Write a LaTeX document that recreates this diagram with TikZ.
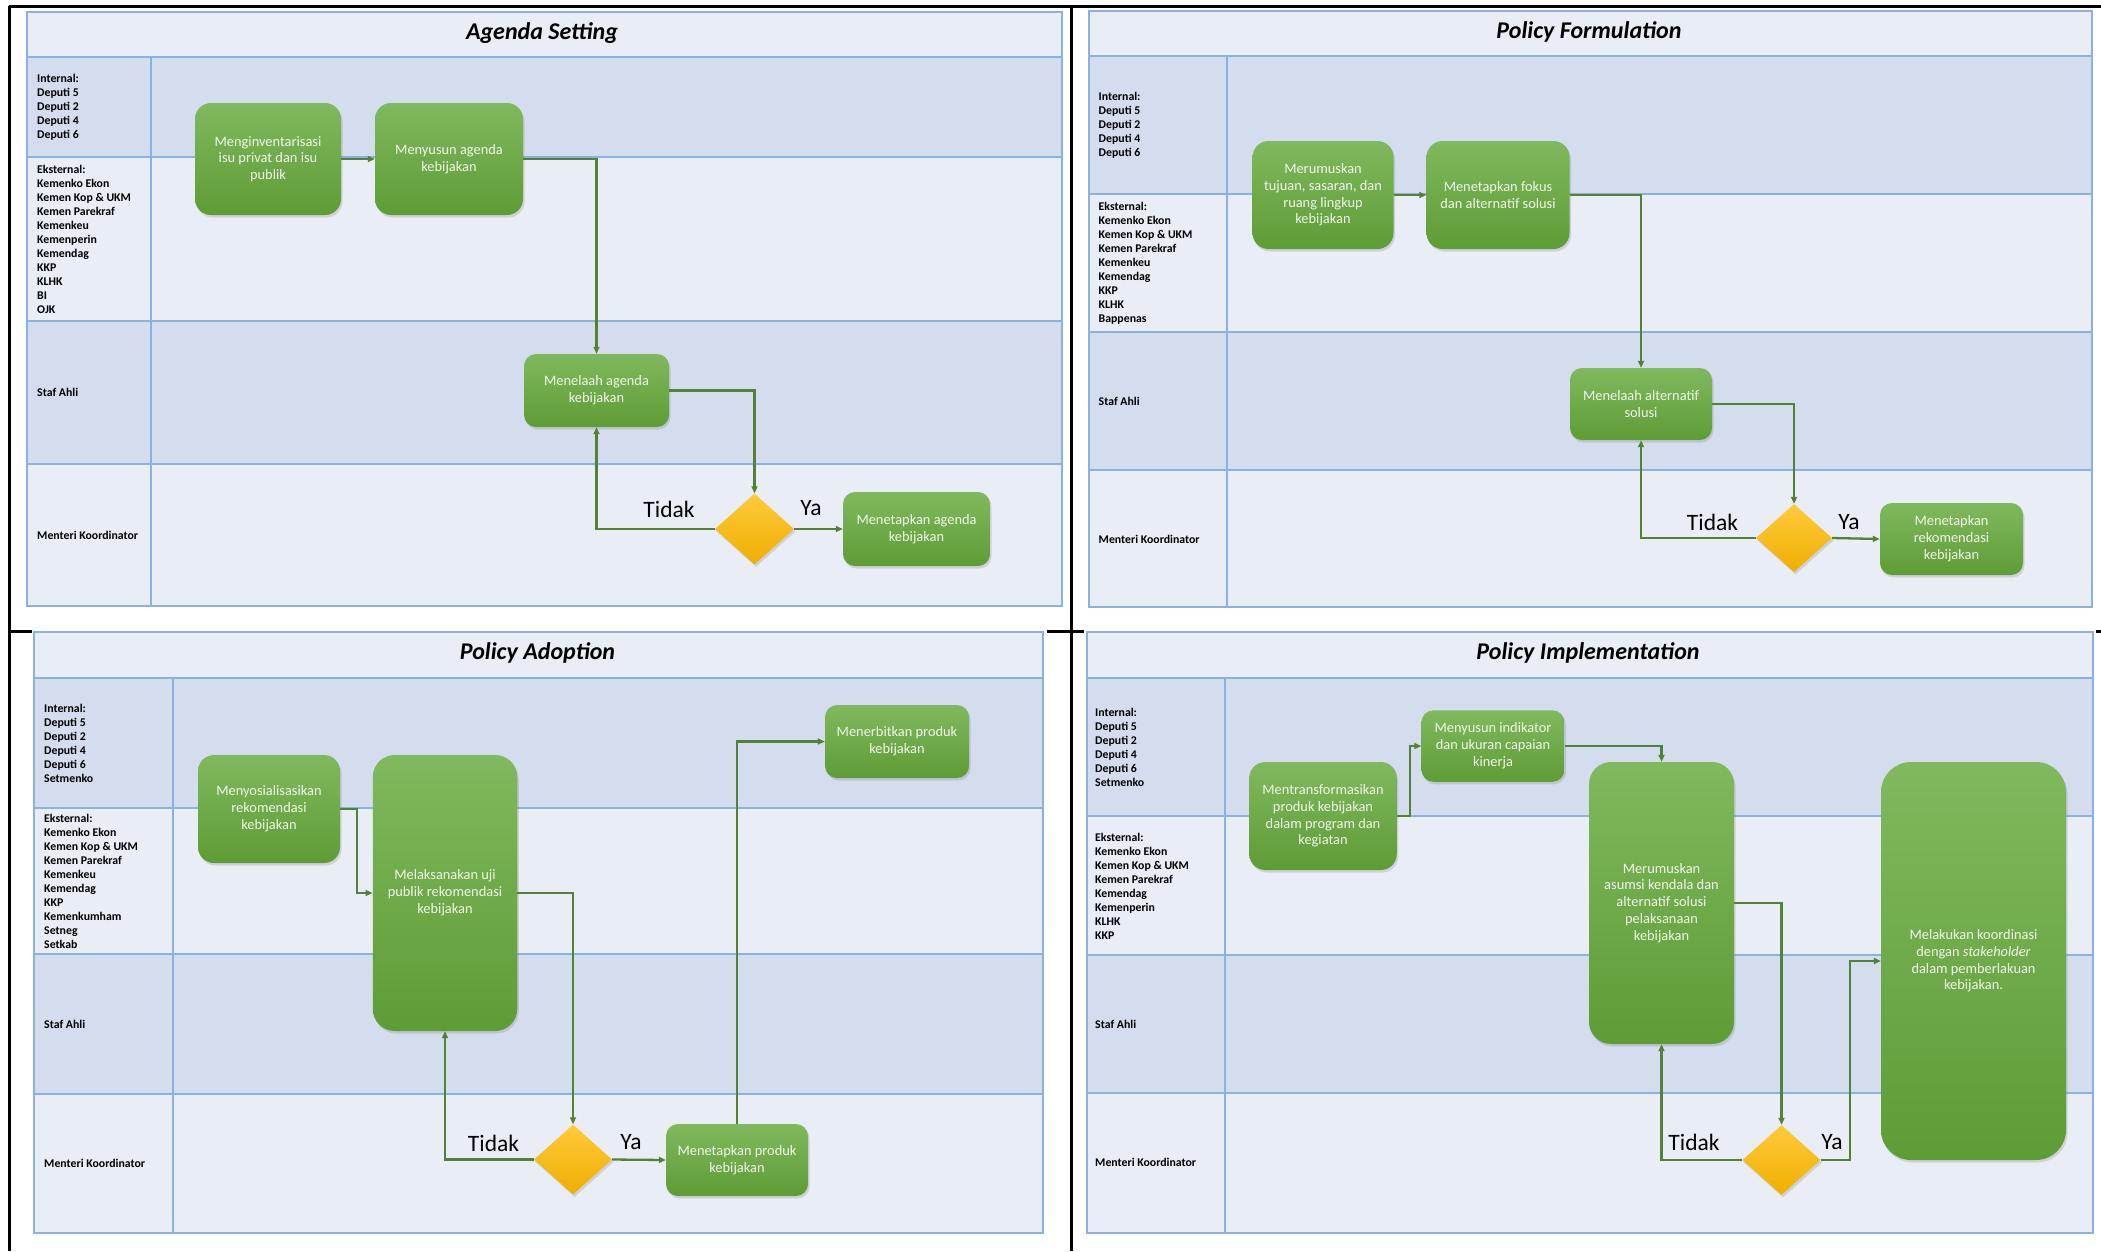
\documentclass[tikz,border=0pt]{standalone}
\usepackage{fontspec}
\setmainfont{Carlito}
\usepackage{tikz}
\usetikzlibrary{shapes.geometric,arrows.meta,shadows}
\definecolor{lanelight}{HTML}{E9EDF6}
\definecolor{lanedark}{HTML}{D3DDEE}
\definecolor{laneblue}{HTML}{8AB2E0}
\definecolor{greentop}{HTML}{80B95E}
\definecolor{greenbot}{HTML}{5E9C35}
\definecolor{goldtop}{HTML}{FFCB3C}
\definecolor{goldbot}{HTML}{EFAE00}
\definecolor{flowgreen}{HTML}{538135}
\definecolor{boxtext}{HTML}{F2F7EE}

\begin{document}
\begin{tikzpicture}[x=1pt, y=-1pt,
  laneline/.style={draw=laneblue, line width=2pt},
  frameline/.style={draw=black, line width=3pt},
  lanelabel/.style={anchor=west, align=left, inner sep=0pt, font=\fontsize{11.8}{14}\selectfont\bfseries},
  paneltitle/.style={inner sep=0pt, font=\fontsize{24}{28}\selectfont\bfseries\itshape},
  greenbox/.style={rectangle, draw=none, top color=greentop, bottom color=greenbot, text=boxtext, align=center, inner sep=0pt, font=\fontsize{14.4}{16.8}\selectfont, drop shadow={shadow xshift=1.5pt, shadow yshift=-2.5pt, opacity=0.25}},
  decision/.style={diamond, draw=none, top color=goldtop, bottom color=goldbot, inner sep=0pt, drop shadow={shadow xshift=1.5pt, shadow yshift=-2.5pt, opacity=0.25}},
  branchlabel/.style={inner sep=0pt, font=\fontsize{23.5}{27}\selectfont},
  flowarrow/.style={draw=flowgreen, line width=2.3pt, -{Triangle[length=7pt, width=6pt]}}]
\useasboundingbox (0,0) rectangle (2101,1251);
\fill[white] (0,0) rectangle (2101,1251);

\fill[lanelight] (27,12) rectangle (1062,606);
\fill[lanedark] (27,57) rectangle (1062,157);
\fill[lanedark] (27,321) rectangle (1062,463.5);
\draw[laneline] (27,12) rectangle (1062,606);
\draw[laneline] (27,57) -- (1062,57);
\draw[laneline] (27,157) -- (1062,157);
\draw[laneline] (27,321) -- (1062,321);
\draw[laneline] (27,463.5) -- (1062,463.5);
\draw[laneline] (151,57) -- (151,606);

\fill[lanelight] (1089,11) rectangle (2092,607);
\fill[lanedark] (1089,56) rectangle (2092,194);
\fill[lanedark] (1089,332) rectangle (2092,469.5);
\draw[laneline] (1089,11) rectangle (2092,607);
\draw[laneline] (1089,56) -- (2092,56);
\draw[laneline] (1089,194) -- (2092,194);
\draw[laneline] (1089,332) -- (2092,332);
\draw[laneline] (1089,469.5) -- (2092,469.5);
\draw[laneline] (1227,56) -- (1227,607);

\fill[lanelight] (34,632) rectangle (1043,1233);
\fill[lanedark] (34,678) rectangle (1043,808);
\fill[lanedark] (34,954) rectangle (1043,1093.5);
\draw[laneline] (34,632) rectangle (1043,1233);
\draw[laneline] (34,678) -- (1043,678);
\draw[laneline] (34,808) -- (1043,808);
\draw[laneline] (34,954) -- (1043,954);
\draw[laneline] (34,1093.5) -- (1043,1093.5);
\draw[laneline] (173,678) -- (173,1233);

\fill[lanelight] (1087,632) rectangle (2093,1232.5);
\fill[lanedark] (1087,678) rectangle (2093,816);
\fill[lanedark] (1087,955) rectangle (2093,1093);
\draw[laneline] (1087,632) rectangle (2093,1232.5);
\draw[laneline] (1087,678) -- (2093,678);
\draw[laneline] (1087,816) -- (2093,816);
\draw[laneline] (1087,955) -- (2093,955);
\draw[laneline] (1087,1093) -- (2093,1093);
\draw[laneline] (1225,678) -- (1225,1232.5);

\draw[frameline] (9,6) -- (2101,6);
\draw[frameline] (9,6) -- (9,1251);
\draw[frameline] (1071,6) -- (1071,1251);
\draw[frameline] (9,631) -- (32,631);
\draw[frameline] (1047,631) -- (1084,631);
\draw[frameline] (2096,631) -- (2101,631);

\node[paneltitle] (t1) at (542,33) {Agenda Setting};
\node[lanelabel] (p1int) at (37,107) {Internal:\\Deputi 5\\Deputi 2\\Deputi 4\\Deputi 6};
\node[lanelabel] (p1ext) at (37,239) {Eksternal:\\Kemenko Ekon\\Kemen Kop \& UKM\\Kemen Parekraf\\Kemenkeu\\Kemenperin\\Kemendag\\KKP\\KLHK\\BI\\OJK};
\node[lanelabel] (p1staf) at (37,392) {Staf Ahli};
\node[lanelabel] (p1men) at (37,535) {Menteri Koordinator};

\node[greenbox, minimum width=146pt, minimum height=112pt, rounded corners=16pt] (a1) at (268,159) {Menginventarisasi\\isu privat dan isu\\publik};
\node[greenbox, minimum width=148pt, minimum height=112pt, rounded corners=16pt] (a2) at (449,159) {Menyusun agenda\\kebijakan};
\node[greenbox, minimum width=145pt, minimum height=73pt, rounded corners=12pt] (a3) at (596.5,390.5) {Menelaah agenda\\kebijakan};
\node[decision, minimum width=79pt, minimum height=71pt] (ad) at (754.5,529) {};
\node[greenbox, minimum width=147pt, minimum height=74pt, rounded corners=12pt] (a4) at (916.5,529) {Menetapkan agenda\\kebijakan};
\node[branchlabel] (a5) at (669,509) {Tidak};
\node[branchlabel] (a6) at (811,508) {Ya};
\draw[flowarrow] (a1.east) -- (a2.west);
\draw[flowarrow] (a2.east) -| (a3.north);
\draw[flowarrow] (a3.east) -| (ad.north);
\draw[flowarrow] (ad.west) -| (a3.south);
\draw[flowarrow] (ad.east) -- (a4.west);

\node[paneltitle] (t2) at (1589,32) {Policy Formulation};
\node[lanelabel] (p2int) at (1098.5,125) {Internal:\\Deputi 5\\Deputi 2\\Deputi 4\\Deputi 6};
\node[lanelabel] (p2ext) at (1098.5,263) {Eksternal:\\Kemenko Ekon\\Kemen Kop \& UKM\\Kemen Parekraf\\Kemenkeu\\Kemendag\\KKP\\KLHK\\Bappenas};
\node[lanelabel] (p2staf) at (1098.5,401) {Staf Ahli};
\node[lanelabel] (p2men) at (1098.5,539.5) {Menteri Koordinator};

\node[greenbox, minimum width=141pt, minimum height=108pt, rounded corners=16pt] (b1) at (1323,195) {Merumuskan\\tujuan, sasaran, dan\\ruang lingkup\\kebijakan};
\node[greenbox, minimum width=143pt, minimum height=108pt, rounded corners=16pt] (b2) at (1498,195) {Menetapkan fokus\\dan alternatif solusi};
\node[greenbox, minimum width=142pt, minimum height=72pt, rounded corners=12pt] (b3) at (1641,404) {Menelaah alternatif\\solusi};
\node[decision, minimum width=76pt, minimum height=68pt] (bd) at (1794,538) {};
\node[greenbox, minimum width=143pt, minimum height=72pt, rounded corners=12pt] (b4) at (1951.5,539) {Menetapkan\\rekomendasi\\kebijakan};
\node[branchlabel] (b5) at (1712.5,522) {Tidak};
\node[branchlabel] (b6) at (1849,522) {Ya};
\draw[flowarrow] (b1.east) -- (b2.west);
\draw[flowarrow] (b2.east) -| (b3.north);
\draw[flowarrow] (b3.east) -| (bd.north);
\draw[flowarrow] (bd.west) -| (b3.south);
\draw[flowarrow] (bd.east) -- (b4.west);

\node[paneltitle] (t3) at (537.5,653) {Policy Adoption};
\node[lanelabel] (p3int) at (44,743) {Internal:\\Deputi 5\\Deputi 2\\Deputi 4\\Deputi 6\\Setmenko};
\node[lanelabel] (p3ext) at (44,881.5) {Eksternal:\\Kemenko Ekon\\Kemen Kop \& UKM\\Kemen Parekraf\\Kemenkeu\\Kemendag\\KKP\\Kemenkumham\\Setneg\\Setkab};
\node[lanelabel] (p3staf) at (44,1024) {Staf Ahli};
\node[lanelabel] (p3men) at (44,1163) {Menteri Koordinator};

\node[greenbox, minimum width=142pt, minimum height=108pt, rounded corners=16pt] (c1) at (269,809) {Menyosialisasikan\\rekomendasi\\kebijakan};
\node[greenbox, minimum width=144.5pt, minimum height=276pt, rounded corners=22pt] (c2) at (445,893) {Melaksanakan uji\\publik rekomendasi\\kebijakan};
\node[decision, minimum width=78pt, minimum height=70pt] (cd) at (573,1159.5) {};
\node[greenbox, minimum width=142pt, minimum height=72pt, rounded corners=12pt] (c3) at (737,1160) {Menetapkan produk\\kebijakan};
\node[greenbox, minimum width=144pt, minimum height=73pt, rounded corners=12pt] (c4) at (897,741.5) {Menerbitkan produk\\kebijakan};
\node[branchlabel] (c5) at (493.5,1143) {Tidak};
\node[branchlabel] (c6) at (631,1142) {Ya};
\draw[flowarrow] (c1.east) -- ++(17,0) |- (c2.west);
\draw[flowarrow] (c2.east) -| (cd.north);
\draw[flowarrow] (cd.west) -| (c2.south);
\draw[flowarrow] (cd.east) -- (c3.west);
\draw[flowarrow] (c3.north) |- (c4.west);

\node[paneltitle] (t4) at (1588,653) {Policy Implementation};
\node[lanelabel] (p4int) at (1095,747) {Internal:\\Deputi 5\\Deputi 2\\Deputi 4\\Deputi 6\\Setmenko};
\node[lanelabel] (p4ext) at (1095,886) {Eksternal:\\Kemenko Ekon\\Kemen Kop \& UKM\\Kemen Parekraf\\Kemendag\\Kemenperin\\KLHK\\KKP};
\node[lanelabel] (p4staf) at (1095,1024) {Staf Ahli};
\node[lanelabel] (p4men) at (1095,1162) {Menteri Koordinator};

\node[greenbox, minimum width=147.5pt, minimum height=108pt, rounded corners=16pt] (d1) at (1323,816) {Mentransformasikan\\produk kebijakan\\dalam program dan\\kegiatan};
\node[greenbox, minimum width=143pt, minimum height=71.5pt, rounded corners=12pt] (d2) at (1493,746) {Menyusun indikator\\dan ukuran capaian\\kinerja};
\node[greenbox, minimum width=145pt, minimum height=282pt, rounded corners=22pt] (d3) at (1661.5,903) {Merumuskan\\asumsi kendala dan\\alternatif solusi\\pelaksanaan\\kebijakan};
\node[decision, minimum width=78pt, minimum height=70pt] (dd) at (1781.5,1160) {};
\node[greenbox, minimum width=185pt, minimum height=398pt, rounded corners=30pt] (d4) at (1973.5,961) {Melakukan koordinasi\\dengan \textit{stakeholder}\\dalam pemberlakuan\\kebijakan.};
\node[branchlabel] (d5) at (1694,1142) {Tidak};
\node[branchlabel] (d6) at (1832,1142) {Ya};
\draw[flowarrow] (d1.east) -- ++(13,0) |- (d2.west);
\draw[flowarrow] (d2.east) -| (d3.north);
\draw[flowarrow] (d3.east) -| (dd.north);
\draw[flowarrow] (dd.west) -| (d3.south);
\draw[flowarrow] (dd.east) -- ++(29,0) |- (d4.west);
\end{tikzpicture}
\end{document}
